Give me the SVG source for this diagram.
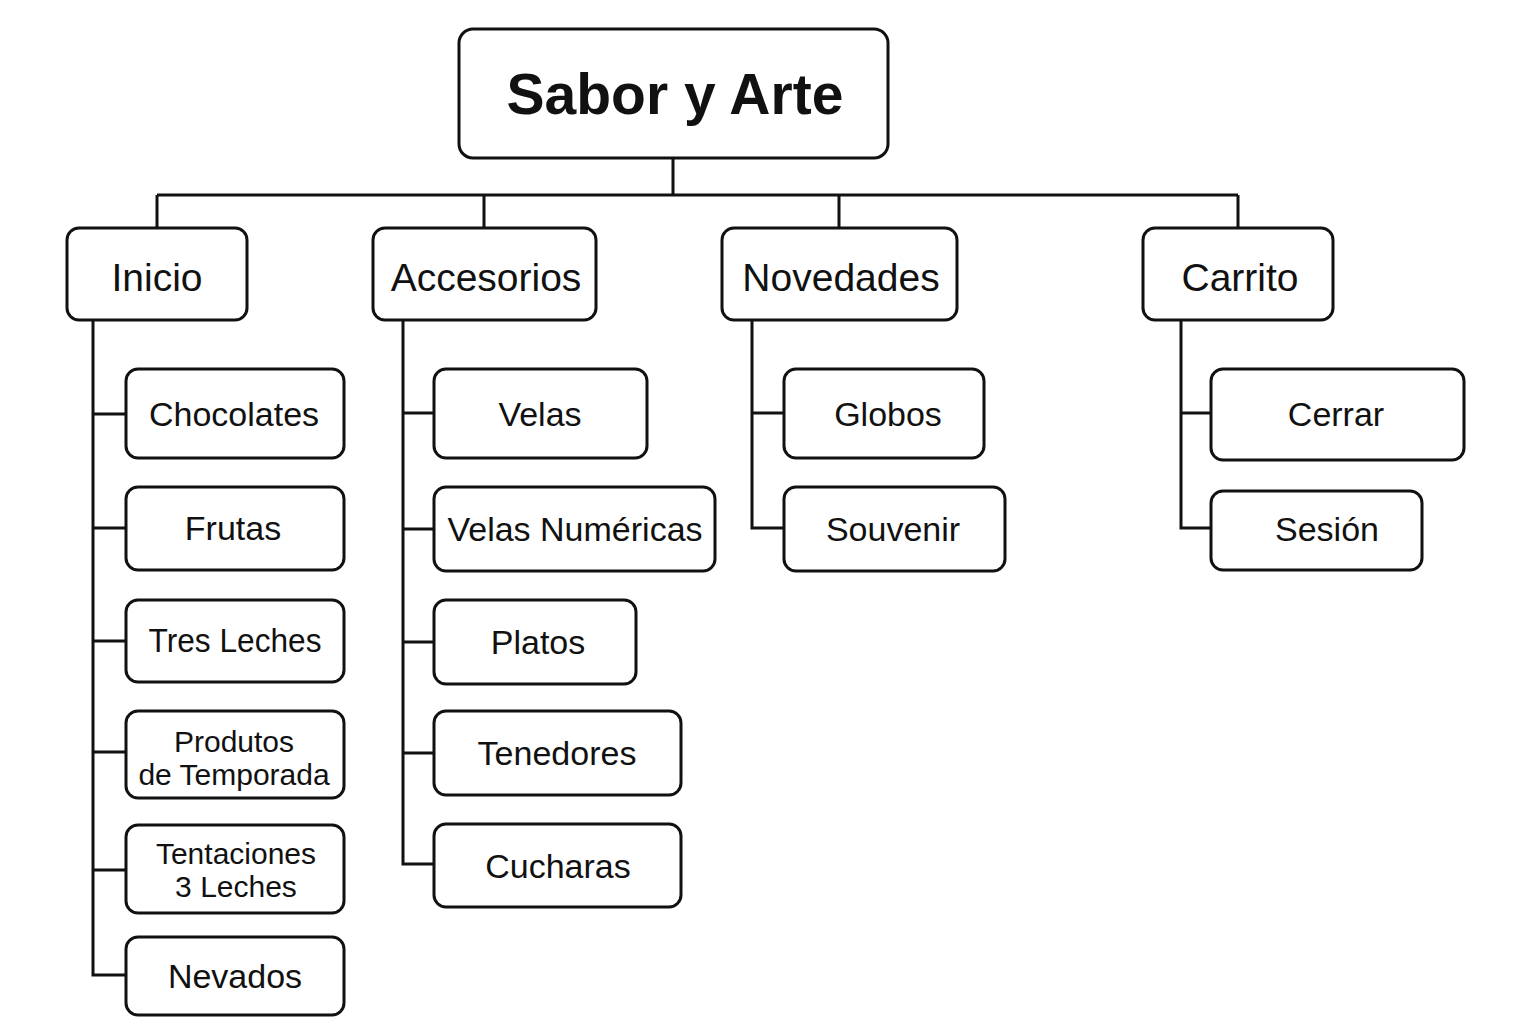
<svg xmlns="http://www.w3.org/2000/svg" width="1536" height="1024" viewBox="0 0 1536 1024">
<style>
.box{fill:#fff;stroke:#111;stroke-width:3}
.ln{fill:none;stroke:#111;stroke-width:3;stroke-linejoin:miter}
text{font-family:"Liberation Sans",Arial,sans-serif;fill:#111;text-anchor:middle}
.t0{font-size:57px;font-weight:bold}
.t1{font-size:39px}
.t2{font-size:34px}
.t3{font-size:30px}
</style>
<rect width="1536" height="1024" fill="#fff"/>
<g id="connectors" class="ln">
<path d="M673 158V195M157 195H1238M157 195V228M484 195V228M839 195V228M1238 195V228"/>
<path d="M93 320V975H126M93 414H126M93 528H126M93 641H126M93 752H126M93 870H126"/>
<path d="M403 320V864H434M403 413H434M403 529H434M403 642H434M403 753H434"/>
<path d="M752 320V528H784M752 413H784"/>
<path d="M1181 320V528H1211M1181 413H1211"/>
</g>
<g id="root"><rect class="box" x="459" y="29" width="429" height="129" rx="14"/><text class="t0" x="675" y="114">Sabor y Arte</text></g>
<g id="inicio"><rect class="box" x="67" y="228" width="180" height="92" rx="12"/><text class="t1" x="157" y="291">Inicio</text></g>
<g id="accesorios"><rect class="box" x="373" y="228" width="223" height="92" rx="12"/><text class="t1" x="486" y="291">Accesorios</text></g>
<g id="novedades"><rect class="box" x="722" y="228" width="235" height="92" rx="12"/><text class="t1" x="841" y="291">Novedades</text></g>
<g id="carrito"><rect class="box" x="1143" y="228" width="190" height="92" rx="12"/><text class="t1" x="1240" y="291">Carrito</text></g>

<g id="chocolates"><rect class="box" x="126" y="369" width="218" height="89" rx="12"/><text class="t2" x="234" y="426">Chocolates</text></g>
<g id="frutas"><rect class="box" x="126" y="487" width="218" height="83" rx="12"/><text class="t2" x="233" y="540">Frutas</text></g>
<g id="tresleches"><rect class="box" x="126" y="600" width="218" height="82" rx="12"/><text class="t2" x="235" y="652" textLength="173" lengthAdjust="spacingAndGlyphs">Tres Leches</text></g>
<g id="produtos"><rect class="box" x="126" y="711" width="218" height="87" rx="12"/><text class="t3" x="234" y="752">Produtos</text><text class="t3" x="234" y="785">de Temporada</text></g>
<g id="tentaciones"><rect class="box" x="126" y="825" width="218" height="88" rx="12"/><text class="t3" x="236" y="864">Tentaciones</text><text class="t3" x="236" y="897">3 Leches</text></g>
<g id="nevados"><rect class="box" x="126" y="937" width="218" height="78" rx="12"/><text class="t2" x="235" y="988">Nevados</text></g>

<g id="velas"><rect class="box" x="434" y="369" width="213" height="89" rx="12"/><text class="t2" x="540" y="426">Velas</text></g>
<g id="velasnum"><rect class="box" x="434" y="487" width="281" height="84" rx="12"/><text class="t2" x="575" y="541">Velas Numéricas</text></g>
<g id="platos"><rect class="box" x="434" y="600" width="202" height="84" rx="12"/><text class="t2" x="538" y="654">Platos</text></g>
<g id="tenedores"><rect class="box" x="434" y="711" width="247" height="84" rx="12"/><text class="t2" x="557" y="765">Tenedores</text></g>
<g id="cucharas"><rect class="box" x="434" y="824" width="247" height="83" rx="12"/><text class="t2" x="558" y="878">Cucharas</text></g>

<g id="globos"><rect class="box" x="784" y="369" width="200" height="89" rx="12"/><text class="t2" x="888" y="426">Globos</text></g>
<g id="souvenir"><rect class="box" x="784" y="487" width="221" height="84" rx="12"/><text class="t2" x="893" y="541">Souvenir</text></g>

<g id="cerrar"><rect class="box" x="1211" y="369" width="253" height="91" rx="12"/><text class="t2" x="1336" y="426">Cerrar</text></g>
<g id="sesion"><rect class="box" x="1211" y="491" width="211" height="79" rx="12"/><text class="t2" x="1327" y="541">Sesión</text></g>
</svg>
